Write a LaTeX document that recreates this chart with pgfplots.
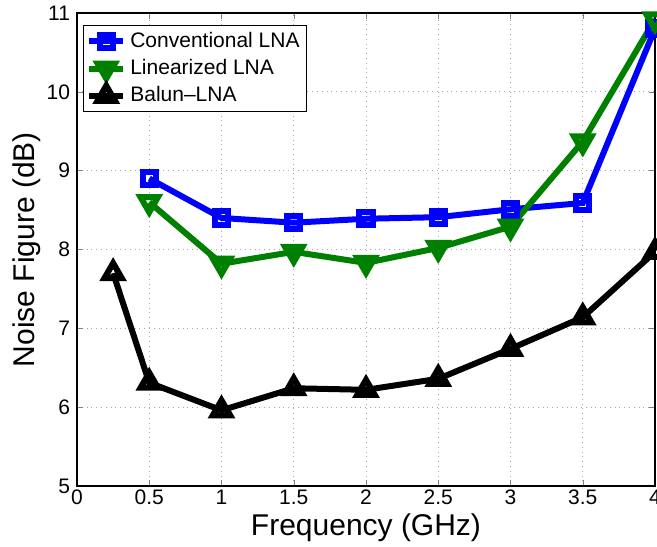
\documentclass[border=0pt]{standalone}
\usepackage{fontspec}
\setmainfont{Liberation Sans}
\usepackage{pgfplots}
\pgfplotsset{compat=1.18}

\definecolor{mblue}{RGB}{0,0,255}
\definecolor{mgreen}{RGB}{0,128,0}

\begin{document}
\begin{tikzpicture}
\begin{axis}[
  scale only axis,
  width=289pt, height=236.5pt,
  xmin=0, xmax=4, ymin=5, ymax=11,
  xtick={0,0.5,1,1.5,2,2.5,3,3.5,4},
  ytick={5,6,7,8,9,10,11},
  tick align=inside, major tick length=3pt,
  grid=major,
  major grid style={dotted, gray!70, line width=0.5pt},
  axis line style={line width=0.6pt},
  /pgf/number format/assume math mode=true,
  ticklabel style={font=\fontsize{10.5}{12}\selectfont},
  xticklabel style={yshift=1.5pt},
  xlabel={Frequency (GHz)},
  ylabel={Noise Figure (dB)},
  label style={font=\fontsize{15}{18}\selectfont},
  xlabel style={at={(axis description cs:0.5,-0.088)}, anchor=center},
  ylabel style={at={(axis description cs:-0.0865,0.5)}, anchor=center},
  legend style={at={(0.01,0.975)}, anchor=north west,
    font=\fontsize{10.5}{12}\selectfont, inner sep=1.5pt, row sep=0.5pt},
  legend cell align=left,
]

% Conventional LNA
\addplot[mblue, line width=3pt, mark=square, mark size=3.3pt,
  mark options={solid, fill=white}] coordinates {
  (0.5,8.90) (1,8.40) (1.5,8.34) (2,8.39) (2.5,8.41) (3,8.51) (3.5,8.59) (4,10.8)
};
\addlegendentry{Conventional LNA}

% Linearized LNA
\addplot[mgreen, line width=3pt, mark=triangle, mark size=5pt,
  mark options={solid, fill=white, rotate=180}] coordinates {
  (0.5,8.60) (1,7.82) (1.5,7.97) (2,7.83) (2.5,8.02) (3,8.29) (3.5,9.37) (4,10.92)
};
\addlegendentry{Linearized LNA}

% Balun-LNA
\addplot[black, line width=3pt, mark=triangle, mark size=5pt,
  mark options={solid, fill=white}] coordinates {
  (0.25,7.70) (0.5,6.31) (1,5.96) (1.5,6.24) (2,6.22) (2.5,6.36) (3,6.74) (3.5,7.14) (4,7.97)
};
\addlegendentry{Balun--LNA}

\coordinate (sw) at (rel axis cs:0,0);
\coordinate (ne) at (rel axis cs:1,1);
\end{axis}
\pgfresetboundingbox
\path[use as bounding box] ([xshift=-38.5pt,yshift=-30pt]sw) rectangle ([xshift=1pt,yshift=6.5pt]ne);
\end{tikzpicture}
\end{document}
